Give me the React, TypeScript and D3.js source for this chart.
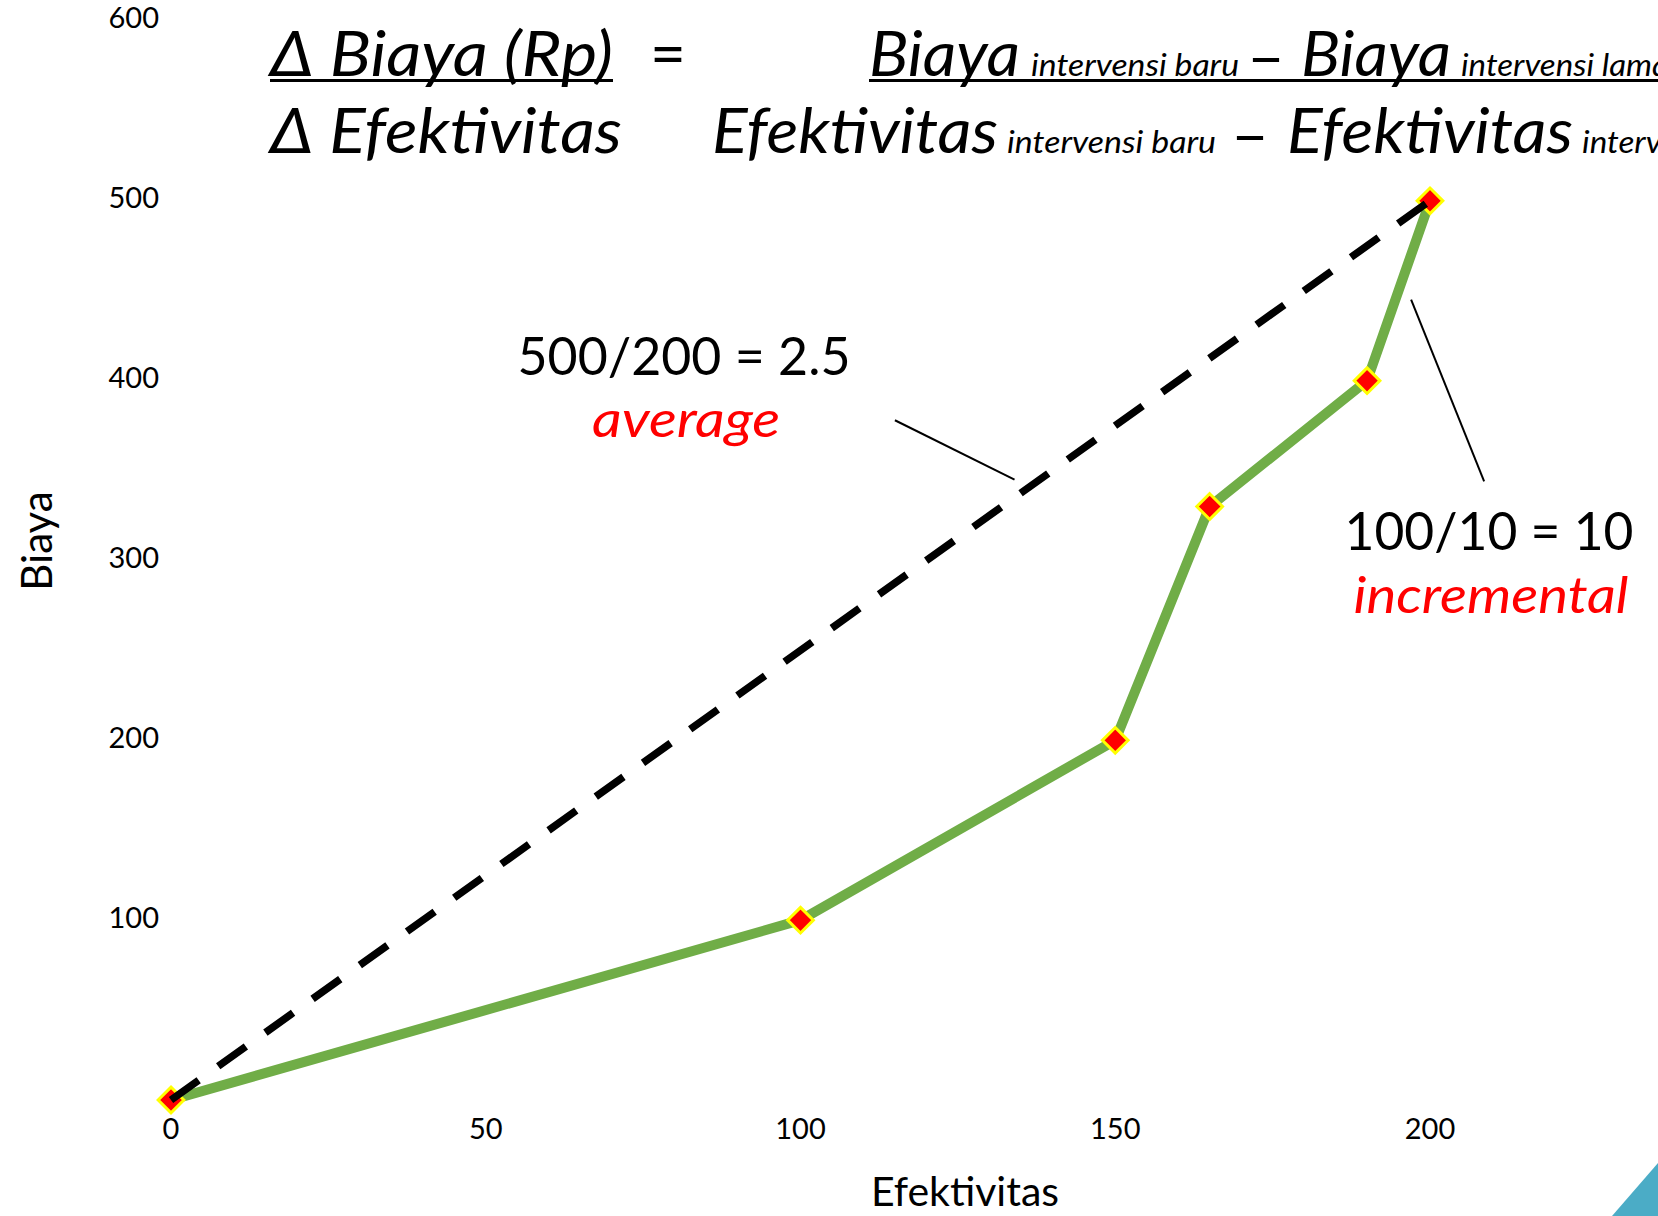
import React from 'react';
import * as d3 from 'd3';

// effektivitas vs biaya points
const efektivitas = [0, 100, 150, 165, 190, 200];
const biaya = [0, 100, 200, 330, 400, 500];
// average line: from origin to the last point
const averageLine = [[0, 0], [200, 500]];
const xTicks = [0, 50, 100, 150, 200];
const yTicks = [100, 200, 300, 400, 500, 600];

const W = 1658;
const H = 1216;
const FONT = 'Lato, "Open Sans", sans-serif';

const x = d3.scaleLinear().domain([0, 200]).range([171, 1430]);
const y = d3.scaleLinear().domain([0, 600]).range([1100, 21]);

// annotation anchors in data units
const avgLeader = [[115, 378], [134, 345]];
const incLeader = [[197, 445], [208.6, 344]];

export default function App() {
  const pts = efektivitas.map((e, i) => [e, biaya[i]] as [number, number]);
  const line = d3.line<number[]>().x(d => x(d[0])).y(d => y(d[1]));
  const diamond = d3.symbol().type(d3.symbolDiamond2).size(420)();

  return (
    <svg width={W} height={H} style={{ position: 'absolute', left: 0, top: 0, background: '#fff' }} fontFamily={FONT}>
      {/* formula */}
      <g fontStyle="italic" fill="#000">
        <text x={270} y={76} fontSize={62} textLength={343} lengthAdjust="spacingAndGlyphs">Δ Biaya (Rp)</text>
        <rect x={270} y={79} width={343} height={3} />
        <text x={650} y={76} fontSize={62} fontStyle="normal">=</text>

        <text x={869} y={76} fontSize={62} textLength={151} lengthAdjust="spacingAndGlyphs">Biaya</text>
        <text x={1031} y={76} fontSize={30} textLength={208} lengthAdjust="spacingAndGlyphs">intervensi baru</text>
        <text x={1247} y={78} fontSize={62} fontStyle="normal" textLength={38} lengthAdjust="spacingAndGlyphs">–</text>
        <text x={1301} y={76} fontSize={62} textLength={150} lengthAdjust="spacingAndGlyphs">Biaya</text>
        <text x={1461} y={76} fontSize={30} textLength={208} lengthAdjust="spacingAndGlyphs">intervensi lama</text>
        <rect x={869} y={79} width={W - 869} height={3} />

        <text x={270} y={153} fontSize={62} textLength={352} lengthAdjust="spacingAndGlyphs">Δ Efektivitas</text>
        <text x={712} y={153} fontSize={62} textLength={286} lengthAdjust="spacingAndGlyphs">Efektivitas</text>
        <text x={1007} y={153} fontSize={30} textLength={209} lengthAdjust="spacingAndGlyphs">intervensi baru</text>
        <text x={1231} y={156} fontSize={62} fontStyle="normal" textLength={38} lengthAdjust="spacingAndGlyphs">–</text>
        <text x={1287} y={153} fontSize={62} textLength={286} lengthAdjust="spacingAndGlyphs">Efektivitas</text>
        <text x={1582} y={153} fontSize={30} textLength={209} lengthAdjust="spacingAndGlyphs">intervensi lama</text>
      </g>

      {/* y ticks */}
      {yTicks.map(t => (
        <text key={'y' + t} x={159} y={y(t)} fontSize={29} textAnchor="end" dominantBaseline="middle" fill="#000">{t}</text>
      ))}
      {/* x ticks */}
      {xTicks.map(t => (
        <text key={'x' + t} x={x(t)} y={1139} fontSize={29} textAnchor="middle" fill="#000">{t}</text>
      ))}

      <text x={965} y={1206} fontSize={41} textAnchor="middle">Efektivitas</text>
      <text transform="translate(52,541) rotate(-90)" fontSize={42} textAnchor="middle">Biaya</text>

      {/* green incremental line */}
      <path d={line(pts) || ''} fill="none" stroke="#70AD47" strokeWidth={10} strokeLinejoin="round" />
      {pts.map((d, i) => (
        <path key={i} d={diamond || ''} transform={`translate(${x(d[0])},${y(d[1])})`}
          fill="#FF0000" stroke="#FFFF00" strokeWidth={3} />
      ))}

      {/* average dashed line */}
      <path d={line(averageLine) || ''} fill="none" stroke="#000" strokeWidth={7.5} strokeDasharray="34 24" />

      {/* annotations */}
      <line x1={x(avgLeader[0][0])} y1={y(avgLeader[0][1])} x2={x(avgLeader[1][0])} y2={y(avgLeader[1][1])} stroke="#000" strokeWidth={2} />
      <line x1={x(incLeader[0][0])} y1={y(incLeader[0][1])} x2={x(incLeader[1][0])} y2={y(incLeader[1][1])} stroke="#000" strokeWidth={2} />

      <text x={684} y={375} fontSize={52} textAnchor="middle" textLength={333} lengthAdjust="spacingAndGlyphs">500/200 = 2.5</text>
      <text x={686} y={437} fontSize={50} fontStyle="italic" fill="#FF0000" textAnchor="middle" textLength={188} lengthAdjust="spacingAndGlyphs">average</text>
      <text x={1489} y={550} fontSize={52} textAnchor="middle" textLength={289} lengthAdjust="spacingAndGlyphs">100/10 = 10</text>
      <text x={1491} y={613} fontSize={50} fontStyle="italic" fill="#FF0000" textAnchor="middle" textLength={275} lengthAdjust="spacingAndGlyphs">incremental</text>

      {/* corner decoration */}
      <path d={`M1612,${H} L${W},1163 L${W},${H} Z`} fill="#4BACC6" />
    </svg>
  );
}
